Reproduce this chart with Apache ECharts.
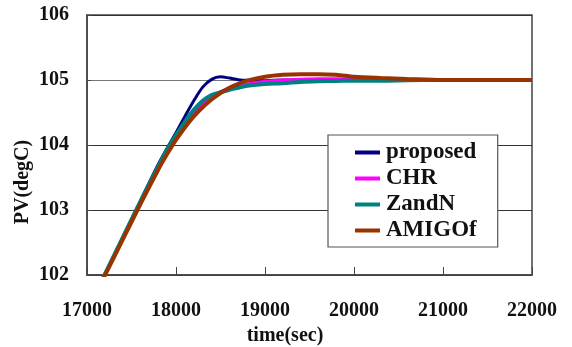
<!DOCTYPE html>
<html>
<head>
<meta charset="utf-8">
<script src="https://cdn.jsdelivr.net/npm/echarts@6/dist/echarts.min.js"></script>
<style>
  html, body { margin: 0; padding: 0; background: #fff; }
  #chart { width: 572px; height: 347px; }
</style>
</head>
<body>
<div id="chart"></div>
<script>
// Process variable step responses for four PID tunings
const seriesNames = ['proposed', 'CHR', 'ZandN', 'AMIGOf'];

const time = [17000, 17200, 17400, 17600, 17800, 17900, 18000, 18100, 18200, 18300,
              18400, 18500, 18600, 18700, 18800, 19000, 19200, 19400, 19600, 19800,
              20000, 20300, 20600, 21000, 21500, 22000];

const proposed = [101.46, 102.01, 102.57, 103.14, 103.70, 103.95, 104.19, 104.44, 104.68, 104.89,
                  105.01, 105.05, 105.03, 105.005, 104.995, 104.99, 105.00, 105.00, 105.00, 105.00,
                  105.00, 105.00, 105.00, 105.00, 105.00, 105.00];

const chr = [101.45, 102.00, 102.55, 103.11, 103.65, 103.90, 104.12, 104.32, 104.50, 104.64,
             104.75, 104.82, 104.87, 104.91, 104.94, 104.98, 105.00, 105.01, 105.02, 105.02,
             105.02, 105.015, 105.01, 105.00, 105.00, 105.00];

const zandN = [101.46, 102.01, 102.57, 103.13, 103.67, 103.93, 104.15, 104.36, 104.54, 104.68,
               104.77, 104.81, 104.85, 104.88, 104.91, 104.94, 104.95, 104.97, 104.98, 104.985,
               104.99, 104.99, 104.995, 105.00, 105.00, 105.00];

const amigof = [101.44, 101.99, 102.54, 103.09, 103.62, 103.86, 104.08, 104.27, 104.44, 104.58,
                104.70, 104.80, 104.88, 104.94, 104.99, 105.05, 105.08, 105.09, 105.09, 105.08,
                105.05, 105.03, 105.015, 105.00, 105.00, 105.00];

const xTicks = [17000, 18000, 19000, 20000, 21000, 22000];
const yTicks = [102, 103, 104, 105, 106];

const values = [proposed, chr, zandN, amigof];
const colors = ['#000080', '#ff00ff', '#008080', '#993300'];
const widths = [3, 3, 4, 4];

const serif = '"Liberation Serif", "Times New Roman", serif';

const chart = echarts.init(document.getElementById('chart'));

chart.setOption({
  animation: false,
  backgroundColor: '#ffffff',
  grid: {
    left: 87, right: 40, top: 15, bottom: 72,
    containLabel: false,
    outerBoundsMode: 'none',
    show: true,
    borderColor: '#444',
    borderWidth: 1.5,
    backgroundColor: 'transparent'
  },
  xAxis: {
    type: 'value',
    min: xTicks[0],
    max: xTicks[xTicks.length - 1],
    interval: 1000,
    axisLine: { show: true, lineStyle: { color: '#444', width: 1.5 } },
    axisTick: { show: true, inside: true, length: 8, lineStyle: { color: '#444', width: 1 } },
    axisLabel: {
      margin: 26,
      color: '#111',
      fontFamily: serif,
      fontWeight: 'bold',
      fontSize: 20,
      formatter: v => String(v)
    },
    splitLine: { show: false }
  },
  yAxis: {
    type: 'value',
    min: yTicks[0],
    max: yTicks[yTicks.length - 1],
    interval: 1,
    axisLine: { show: true, lineStyle: { color: '#444', width: 1.5 } },
    axisTick: { show: true, inside: true, length: 4, lineStyle: { color: '#444', width: 1 } },
    axisLabel: {
      margin: 18,
      color: '#111',
      fontFamily: serif,
      fontWeight: 'bold',
      fontSize: 20,
      formatter: v => String(v)
    },
    splitLine: {
      show: true,
      lineStyle: { color: ['#333', '#333', '#333', '#777', '#333'], width: 1.2 }
    }
  },
  legend: {
    orient: 'vertical',
    left: 328,
    top: 135,
    padding: [6, 21, 5, 27],
    itemGap: 3,
    itemWidth: 25,
    itemHeight: 4,
    icon: 'rect',
    backgroundColor: '#ffffff',
    borderColor: '#555',
    borderWidth: 1.2,
    borderRadius: 0,
    textStyle: {
      color: '#111',
      fontFamily: serif,
      fontWeight: 'bold',
      fontSize: 23,
      lineHeight: 23,
      padding: [0, 0, 0, 1]
    },
    data: seriesNames
  },
  graphic: [
    {
      type: 'text',
      x: 285, y: 336,
      style: {
        text: 'time(sec)',
        font: 'bold 20px ' + serif,
        fill: '#111',
        textAlign: 'center',
        verticalAlign: 'middle',
        textVerticalAlign: 'middle'
      }
    },
    {
      type: 'text',
      x: 23, y: 182,
      rotation: Math.PI / 2,
      style: {
        text: 'PV(degC)',
        font: 'bold 20px ' + serif,
        fill: '#111',
        textAlign: 'center',
        verticalAlign: 'middle',
        textVerticalAlign: 'middle'
      }
    }
  ],
  series: seriesNames.map((name, i) => ({
    name: name,
    type: 'line',
    data: time.map((t, k) => [t, values[i][k]]),
    showSymbol: false,
    symbol: 'none',
    smooth: 0.3,
    clip: true,
    color: colors[i],
    lineStyle: { color: colors[i], width: widths[i] },
    z: 2 + i
  }))
});
</script>
</body>
</html>
